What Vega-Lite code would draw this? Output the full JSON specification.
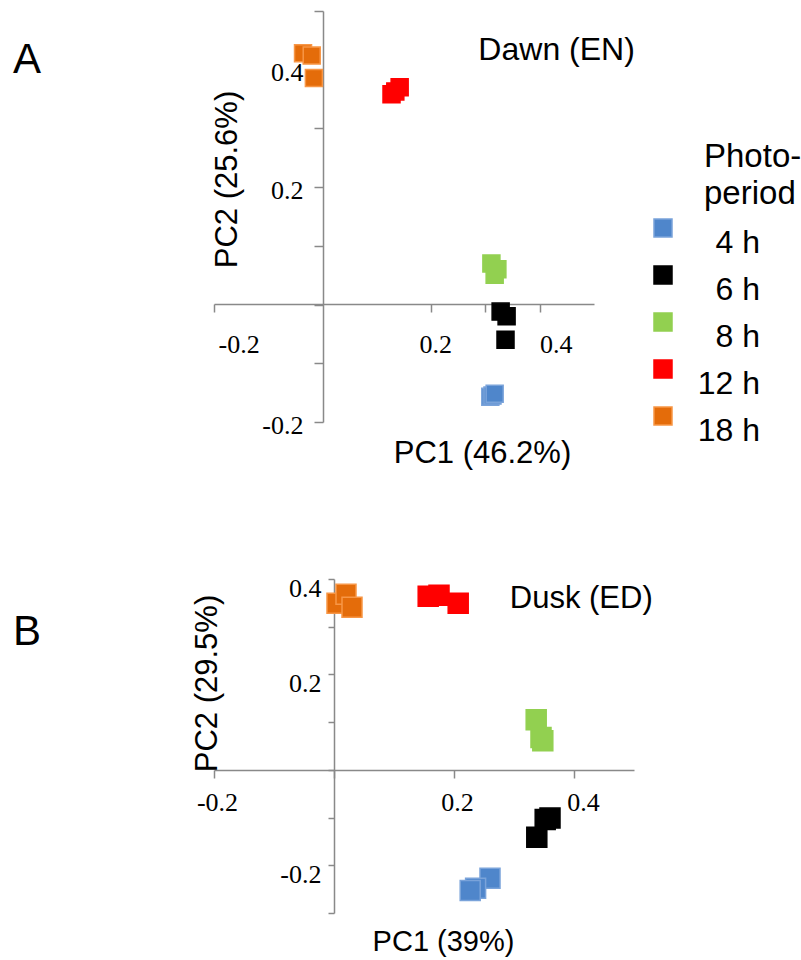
{
  "$schema": "https://vega.github.io/schema/vega-lite/v6.json",
  "background": "white",
  "padding": {"left": 13, "top": 1, "right": 5, "bottom": 5},
  "spacing": 107,
  "config": {
    "view": {"stroke": null},
    "axis": {
      "grid": false,
      "domainColor": "#898989",
      "tickColor": "#898989",
      "domainWidth": 1.5,
      "tickWidth": 1.5,
      "labelFont": "Liberation Serif",
      "labelFontSize": 26,
      "labelColor": "#000000",
      "labelOverlap": false,
      "labelFlush": false,
      "labelBound": false,
      "titleFont": "Liberation Sans",
      "titleFontWeight": "normal",
      "titleColor": "#000000"
    }
  },
  "resolve": {
    "scale": {"fill": "independent", "stroke": "independent"},
    "legend": {"fill": "independent", "stroke": "independent"}
  },
  "vconcat": [
    {
      "width": 380,
      "height": 411,
      "title": {"text": "A", "anchor": "start", "frame": "group", "font": "Liberation Sans", "fontSize": 42, "fontWeight": "normal", "baseline": "top", "offset": -81, "dx": -201, "dy": 0, "color": "#000000"},
      "layer": [
        {
          "data": {"values": [
            {"photoperiod": "18 h", "pc1": -0.036, "pc2": 0.428},
            {"photoperiod": "18 h", "pc1": -0.020, "pc2": 0.424},
            {"photoperiod": "18 h", "pc1": -0.016, "pc2": 0.386},
            {"photoperiod": "12 h", "pc1": 0.127, "pc2": 0.358},
            {"photoperiod": "12 h", "pc1": 0.134, "pc2": 0.363},
            {"photoperiod": "12 h", "pc1": 0.142, "pc2": 0.370},
            {"photoperiod": "8 h", "pc1": 0.311, "pc2": 0.070},
            {"photoperiod": "8 h", "pc1": 0.322, "pc2": 0.060},
            {"photoperiod": "8 h", "pc1": 0.317, "pc2": 0.051},
            {"photoperiod": "6 h", "pc1": 0.328, "pc2": -0.012},
            {"photoperiod": "6 h", "pc1": 0.339, "pc2": -0.020},
            {"photoperiod": "6 h", "pc1": 0.337, "pc2": -0.060},
            {"photoperiod": "4 h", "pc1": 0.309, "pc2": -0.157},
            {"photoperiod": "4 h", "pc1": 0.313, "pc2": -0.155},
            {"photoperiod": "4 h", "pc1": 0.317, "pc2": -0.152}
          ]},
          "mark": {"type": "point", "shape": "square", "filled": true, "size": 289, "strokeWidth": 1.5, "opacity": 1},
          "encoding": {
            "x": {
              "field": "pc1", "type": "quantitative",
              "scale": {"domain": [-0.2, 0.5], "nice": false, "zero": false},
              "axis": {
                "title": "PC1 (46.2%)",
                "values": [-0.2, 0.2, 0.3, 0.4],
                "offset": -118,
                "tickSize": 8,
                "labelPadding": 19,
                "labelBaseline": "top",
                "labelExpr": "datum.value == 0.3 ? '' : (datum.value < 0 ? '-' : '') + format(abs(datum.value), '.1f')",
                "labelAlign": {"condition": {"test": "datum.value < 0", "value": "left"}, "value": "center"},
                "labelOffset": {"condition": {"test": "datum.value > 0.35", "value": 16}, "value": 4},
                "titleFontSize": 31,
                "titleX": 268,
                "titleY": 149,
                "titleBaseline": "middle"
              }
            },
            "y": {
              "field": "pc2", "type": "quantitative",
              "scale": {"domain": [-0.2, 0.5], "nice": false, "zero": false},
              "axis": {
                "title": "PC2 (25.6%)",
                "values": [-0.2, -0.1, 0, 0.1, 0.2, 0.3, 0.4, 0.5],
                "offset": -109,
                "tickSize": 9,
                "labelPadding": 11,
                "labelOffset": 3,
                "labelExpr": "(datum.value == 0.4 || datum.value == 0.2 || datum.value == -0.2) ? (datum.value < 0 ? '-' : '') + format(abs(datum.value), '.1f') : ''",
                "titleFontSize": 31,
                "titleX": -96,
                "titleY": 168,
                "titleBaseline": "middle",
                "titleAngle": -90
              }
            },
            "fill": {
              "field": "photoperiod", "type": "nominal",
              "scale": {"domain": ["4 h", "6 h", "8 h", "12 h", "18 h"], "range": ["#4F86CB", "#000000", "#92D050", "#FF0000", "#E46C0A"]},
              "legend": {
                "title": ["Photo-", "period"],
                "orient": "none", "legendX": 433, "legendY": 130,
                "symbolType": "square", "symbolSize": 324, "symbolStrokeWidth": 1.5,
                "titleFont": "Liberation Sans", "titleFontSize": 33, "titleFontWeight": "normal", "titleColor": "#000000",
                "titleLineHeight": 37, "titleBaseline": "top", "titleAnchor": "middle", "titleAlign": "left", "titlePadding": 1,
                "labelFont": "Liberation Sans", "labelFontSize": 32, "labelColor": "#000000",
                "labelAlign": "right", "labelOffset": 81, "labelBaseline": "top", "labelLimit": 300,
                "rowPadding": 0, "padding": 0
              }
            },
            "stroke": {
              "field": "photoperiod", "type": "nominal",
              "scale": {"domain": ["4 h", "6 h", "8 h", "12 h", "18 h"], "range": ["#7AA3DA", "#000000", "#92D050", "#FF0000", "#F79646"]},
              "legend": {
                "title": ["Photo-", "period"],
                "orient": "none", "legendX": 433, "legendY": 130,
                "symbolType": "square", "symbolSize": 324, "symbolStrokeWidth": 1.5,
                "titleFont": "Liberation Sans", "titleFontSize": 33, "titleFontWeight": "normal", "titleColor": "#000000",
                "titleLineHeight": 37, "titleBaseline": "top", "titleAnchor": "middle", "titleAlign": "left", "titlePadding": 1,
                "labelFont": "Liberation Sans", "labelFontSize": 32, "labelColor": "#000000",
                "labelAlign": "right", "labelOffset": 81, "labelBaseline": "top", "labelLimit": 300,
                "rowPadding": 0, "padding": 0
              }
            }
          }
        },
        {
          "data": {"values": [{}]},
          "mark": {"type": "text", "text": "Dawn (EN)", "align": "left", "baseline": "middle", "font": "Liberation Sans", "fontSize": 32, "color": "#000000"},
          "encoding": {"x": {"datum": 0.287}, "y": {"datum": 0.433}}
        }
      ]
    },
    {
      "width": 420,
      "height": 334,
      "title": {"text": "B", "anchor": "start", "frame": "group", "font": "Liberation Sans", "fontSize": 42, "fontWeight": "normal", "baseline": "top", "offset": -79, "dx": -201, "dy": 0, "color": "#000000"},
      "layer": [
        {
          "data": {"values": [
            {"photoperiod": "18 h", "pc1": 0.005, "pc2": 0.349},
            {"photoperiod": "18 h", "pc1": 0.020, "pc2": 0.368},
            {"photoperiod": "18 h", "pc1": 0.030, "pc2": 0.341},
            {"photoperiod": "12 h", "pc1": 0.157, "pc2": 0.364},
            {"photoperiod": "12 h", "pc1": 0.175, "pc2": 0.366},
            {"photoperiod": "12 h", "pc1": 0.207, "pc2": 0.349},
            {"photoperiod": "8 h", "pc1": 0.337, "pc2": 0.105},
            {"photoperiod": "8 h", "pc1": 0.345, "pc2": 0.068},
            {"photoperiod": "8 h", "pc1": 0.348, "pc2": 0.061},
            {"photoperiod": "6 h", "pc1": 0.360, "pc2": -0.101},
            {"photoperiod": "6 h", "pc1": 0.352, "pc2": -0.104},
            {"photoperiod": "6 h", "pc1": 0.338, "pc2": -0.141},
            {"photoperiod": "4 h", "pc1": 0.260, "pc2": -0.227},
            {"photoperiod": "4 h", "pc1": 0.236, "pc2": -0.248},
            {"photoperiod": "4 h", "pc1": 0.227, "pc2": -0.253}
          ]},
          "mark": {"type": "point", "shape": "square", "filled": true, "size": 400, "strokeWidth": 1.5, "opacity": 1},
          "encoding": {
            "x": {
              "field": "pc1", "type": "quantitative",
              "scale": {"domain": [-0.2, 0.5], "nice": false, "zero": false},
              "axis": {
                "title": "PC1 (39%)",
                "values": [-0.2, 0, 0.2, 0.4],
                "offset": -143,
                "tickSize": 8,
                "labelPadding": 11,
                "labelBaseline": "top",
                "labelAlign": "center",
                "labelOffset": {"condition": {"test": "datum.value > 0.3", "value": 9}, "value": 3},
                "labelExpr": "datum.value == 0 ? '' : (datum.value < 0 ? '-' : '') + format(abs(datum.value), '.1f')",
                "titleFontSize": 29,
                "titleX": 229,
                "titleY": 171,
                "titleBaseline": "middle"
              }
            },
            "y": {
              "field": "pc2", "type": "quantitative",
              "scale": {"domain": [-0.3, 0.4], "nice": false, "zero": false},
              "axis": {
                "title": "PC2 (29.5%)",
                "values": [-0.3, -0.2, -0.1, 0, 0.1, 0.2, 0.3, 0.4],
                "offset": -120,
                "tickSize": 6,
                "labelPadding": 7,
                "labelOffset": 9,
                "labelExpr": "(datum.value == 0.4 || datum.value == 0.2 || datum.value == -0.2) ? (datum.value < 0 ? '-' : '') + format(abs(datum.value), '.1f') : ''",
                "titleFontSize": 31,
                "titleX": -127,
                "titleY": 104,
                "titleBaseline": "middle",
                "titleAngle": -90
              }
            },
            "fill": {
              "field": "photoperiod", "type": "nominal",
              "scale": {"domain": ["4 h", "6 h", "8 h", "12 h", "18 h"], "range": ["#4F86CB", "#000000", "#92D050", "#FF0000", "#E46C0A"]},
              "legend": null
            },
            "stroke": {
              "field": "photoperiod", "type": "nominal",
              "scale": {"domain": ["4 h", "6 h", "8 h", "12 h", "18 h"], "range": ["#7AA3DA", "#000000", "#92D050", "#FF0000", "#F79646"]},
              "legend": null
            }
          }
        },
        {
          "data": {"values": [{}]},
          "mark": {"type": "text", "text": "Dusk (ED)", "align": "left", "baseline": "middle", "font": "Liberation Sans", "fontSize": 31, "color": "#000000"},
          "encoding": {"x": {"datum": 0.293}, "y": {"datum": 0.358}}
        }
      ]
    }
  ]
}
